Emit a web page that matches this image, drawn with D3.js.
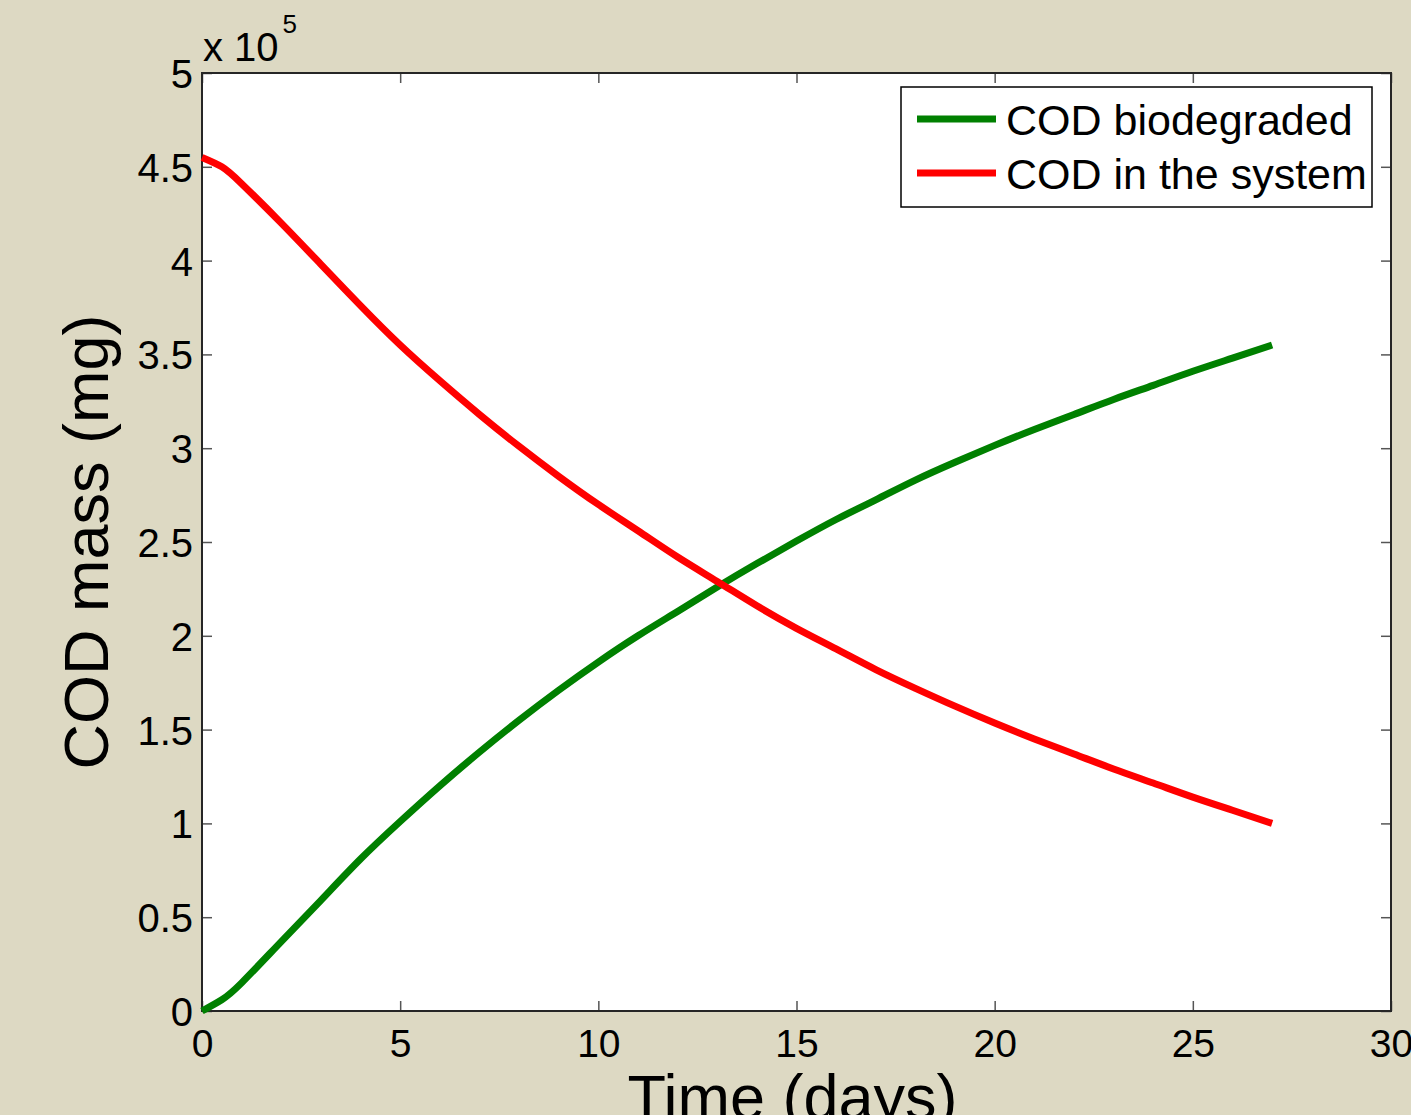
<!DOCTYPE html>
<html lang="en">
<head>
    <meta charset="UTF-8">
    <title>COD mass</title>
    <script src="https://d3js.org/d3.v7.min.js"></script>
    <style>
        body { margin: 0; background: #ddd9c3; }
        text { font-family: Arial, "Liberation Sans", sans-serif; fill: #000; }
    </style>
</head>
<body>
<div id="chart"></div>

<script type=text/javascript>
    // time in days
    var days = [0, 0.5, 1, 2, 3, 4, 5, 6, 7, 8, 9, 10, 11, 12, 13, 14, 15, 16, 17, 18, 19, 20, 21, 22, 23, 24, 25, 26, 27];
    // values, in units of 1e5 mg
    var biodegraded = [0, 0.06, 0.15, 0.37, 0.59, 0.81, 1.01, 1.20, 1.38, 1.55, 1.71, 1.86, 2.00, 2.13, 2.26, 2.385, 2.505, 2.62, 2.725, 2.83, 2.925, 3.015, 3.10, 3.18, 3.26, 3.335, 3.41, 3.48, 3.55];
    var inSystem = [4.55, 4.50, 4.41, 4.20, 3.98, 3.76, 3.55, 3.36, 3.18, 3.01, 2.85, 2.70, 2.56, 2.42, 2.29, 2.16, 2.04, 1.93, 1.82, 1.72, 1.625, 1.535, 1.45, 1.37, 1.29, 1.215, 1.14, 1.07, 1.00];
    var xTicks = [0, 5, 10, 15, 20, 25, 30];
    var yTicks = [0, 0.5, 1, 1.5, 2, 2.5, 3, 3.5, 4, 4.5, 5];
    var seriesNames = ["COD biodegraded", "COD in the system"];
    var seriesColors = ["#008000", "#ff0000"];

    var width = 1411;
    var height = 1115;
    var plotLeft = 202, plotRight = 1391, plotTop = 73, plotBottom = 1011;

    var svg = d3.select("#chart")
        .append("svg")
        .attr("width", width)
        .attr("height", height)
        .style("display", "block");

    svg.append("rect")
        .attr("width", width)
        .attr("height", height)
        .attr("fill", "#ddd9c3");

    var x = d3.scaleLinear().domain([0, 30]).range([plotLeft, plotRight]);
    var y = d3.scaleLinear().domain([0, 5]).range([plotBottom, plotTop]);

    svg.append("rect")
        .attr("x", plotLeft)
        .attr("y", plotTop)
        .attr("width", plotRight - plotLeft)
        .attr("height", plotBottom - plotTop)
        .attr("fill", "#ffffff");

    // ticks on all four sides, pointing inward
    function styleAxis(g) {
        g.select(".domain").remove();
        g.selectAll(".tick line").attr("stroke", "#555").attr("stroke-width", 1.5);
    }

    var xAxis = svg.append("g")
        .attr("transform", "translate(0," + plotBottom + ")")
        .call(d3.axisBottom(x).tickValues(xTicks).tickSize(-10).tickFormat(d3.format("d")));
    styleAxis(xAxis);
    xAxis.selectAll(".tick text")
        .attr("y", 46)
        .attr("dy", 0)
        .attr("font-size", 39);

    svg.append("g")
        .attr("transform", "translate(0," + plotTop + ")")
        .call(d3.axisTop(x).tickValues(xTicks).tickSize(-10).tickFormat(""))
        .call(styleAxis);

    var yAxis = svg.append("g")
        .attr("transform", "translate(" + plotLeft + ",0)")
        .call(d3.axisLeft(y).tickValues(yTicks).tickSize(-10).tickFormat(function(d) { return String(d); }));
    styleAxis(yAxis);
    yAxis.selectAll(".tick text")
        .attr("x", -9)
        .attr("dy", "0.36em")
        .attr("font-size", 40);

    svg.append("g")
        .attr("transform", "translate(" + plotRight + ",0)")
        .call(d3.axisRight(y).tickValues(yTicks).tickSize(-10).tickFormat(""))
        .call(styleAxis);

    // box
    svg.append("rect")
        .attr("x", plotLeft)
        .attr("y", plotTop)
        .attr("width", plotRight - plotLeft)
        .attr("height", plotBottom - plotTop)
        .attr("fill", "none")
        .attr("stroke", "#262626")
        .attr("stroke-width", 2);

    // exponent label
    var expo = svg.append("text")
        .attr("x", 203)
        .attr("y", 61)
        .attr("font-size", 40);
    expo.append("tspan").text("x 10");
    expo.append("tspan")
        .attr("font-size", 26)
        .attr("dx", 4)
        .attr("dy", -28)
        .text("5");

    // lines
    var line = d3.line()
        .x(function(d) { return x(d[0]); })
        .y(function(d) { return y(d[1]); })
        .curve(d3.curveNatural);

    [biodegraded, inSystem].forEach(function(vals, i) {
        svg.append("path")
            .datum(days.map(function(t, j) { return [t, vals[j]]; }))
            .attr("d", line)
            .attr("fill", "none")
            .attr("stroke", seriesColors[i])
            .attr("stroke-width", 7)
            .attr("stroke-linejoin", "round");
    });

    // axis labels
    svg.append("text")
        .attr("transform", "translate(108," + ((plotTop + plotBottom) / 2) + ") rotate(-90)")
        .attr("text-anchor", "middle")
        .attr("font-size", 63)
        .text("COD mass (mg)");

    svg.append("text")
        .attr("x", (plotLeft + plotRight) / 2 - 4)
        .attr("y", 1119)
        .attr("text-anchor", "middle")
        .attr("font-size", 63)
        .text("Time (days)");

    // legend
    var legend = svg.append("g");
    legend.append("rect")
        .attr("x", 901)
        .attr("y", 87)
        .attr("width", 471)
        .attr("height", 120)
        .attr("fill", "#ffffff")
        .attr("stroke", "#000")
        .attr("stroke-width", 1.5);

    seriesNames.forEach(function(name, i) {
        var ly = 119 + i * 54;
        legend.append("line")
            .attr("x1", 917)
            .attr("x2", 996)
            .attr("y1", ly)
            .attr("y2", ly)
            .attr("stroke", seriesColors[i])
            .attr("stroke-width", 7);
        legend.append("text")
            .attr("x", 1006)
            .attr("y", ly + 16)
            .attr("font-size", 43)
            .text(name);
    });
</script>
</body>
</html>
